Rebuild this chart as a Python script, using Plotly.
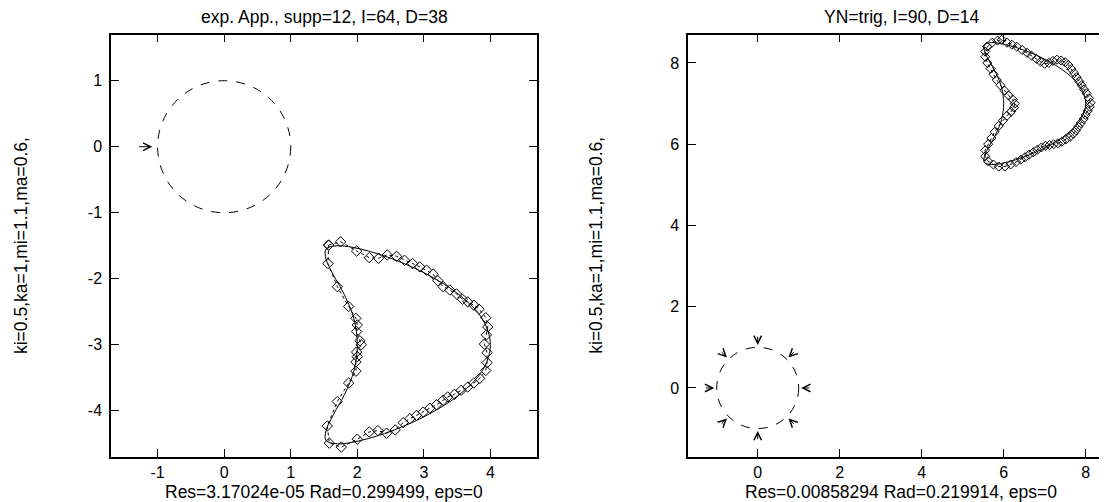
import plotly.graph_objects as go

# ---------------- data ----------------
# left panel: true boundary (solid)
left_true_x = [4.00, 3.88, 3.54, 3.06, 2.53, 2.05, 1.70, 1.53, 1.53, 1.64, 1.81, 1.95, 2.00,
               1.95, 1.81, 1.64, 1.53, 1.53, 1.70, 2.05, 2.53, 3.06, 3.54, 3.88, 4.00]
left_true_y = [-3.00, -2.61, -2.25, -1.94, -1.70, -1.55, -1.50, -1.55, -1.70, -1.94, -2.25, -2.61, -3.00,
               -3.39, -3.75, -4.06, -4.30, -4.45, -4.50, -4.45, -4.30, -4.06, -3.75, -3.39, -3.00]
# left panel: reconstructed points (diamonds)
left_rec_x = [1.57, 1.75, 1.99, 2.18, 2.32, 2.45, 2.59, 2.71, 2.83, 2.94, 3.04, 3.14, 3.21, 3.29,
              3.39, 3.49, 3.58, 3.66, 3.75, 3.83, 3.93, 3.96, 3.94, 3.91, 3.95, 3.95, 3.93,
              3.84, 3.75, 3.66, 3.56, 3.46, 3.36, 3.29, 3.19, 3.09, 2.99, 2.89, 2.79, 2.69,
              2.57, 2.44, 2.31, 2.18, 2.00, 1.76, 1.58,
              1.55, 1.70, 1.87, 1.98, 1.98, 2.00, 1.99, 2.06, 2.04, 1.99, 2.00, 1.98, 1.87, 1.70, 1.56, 1.57]
left_rec_y = [-1.49, -1.44, -1.58, -1.68, -1.69, -1.64, -1.66, -1.72, -1.77, -1.82, -1.87, -1.93, -2.03, -2.12,
              -2.17, -2.23, -2.31, -2.35, -2.40, -2.46, -2.59, -2.73, -2.85, -2.99, -3.12, -3.27, -3.39,
              -3.51, -3.58, -3.64, -3.69, -3.75, -3.79, -3.84, -3.91, -3.96, -4.02, -4.07, -4.12, -4.18,
              -4.29, -4.34, -4.30, -4.32, -4.43, -4.55, -4.49,
              -4.23, -3.86, -3.58, -3.40, -3.26, -3.18, -3.11, -3.00, -2.94, -2.80, -2.70, -2.60, -2.42, -2.12, -1.77, -1.49]

# right panel: true boundary (solid)
right_true_x = [8.00, 7.88, 7.54, 7.06, 6.53, 6.05, 5.70, 5.53, 5.53, 5.64, 5.81, 5.95, 6.00,
                5.95, 5.81, 5.64, 5.53, 5.53, 5.70, 6.05, 6.53, 7.06, 7.54, 7.88, 8.00]
right_true_y = [7.00, 7.39, 7.75, 8.06, 8.30, 8.45, 8.50, 8.45, 8.30, 8.06, 7.75, 7.39, 7.00,
                6.61, 6.25, 5.94, 5.70, 5.55, 5.50, 5.55, 5.70, 5.94, 6.25, 6.61, 7.00]
# right panel: reconstructed points (diamonds)
right_rec_x = [5.60, 5.72, 5.85, 5.95, 6.08, 6.20, 6.32, 6.45, 6.57, 6.68, 6.80, 6.90, 7.00, 7.10,
               7.20, 7.30, 7.40, 7.50, 7.58, 7.65, 7.72, 7.78, 7.84, 7.90, 7.96, 8.02, 8.08, 8.12,
               8.10, 8.05, 8.00, 7.95, 7.88, 7.82, 7.76, 7.70, 7.62, 7.52, 7.42, 7.32, 7.22, 7.12,
               7.02, 6.92, 6.82, 6.72, 6.62, 6.52, 6.42, 6.30, 6.17, 6.03, 5.88, 5.75, 5.62, 5.55,
               5.55, 5.62, 5.70, 5.78, 5.88, 5.98, 6.08, 6.18, 6.25, 6.27, 6.22, 6.12, 6.02, 5.92,
               5.83, 5.75, 5.68, 5.60, 5.55, 5.55, 5.60]
right_rec_y = [8.40, 8.50, 8.55, 8.57, 8.50, 8.45, 8.40, 8.32, 8.25, 8.18, 8.10, 8.03, 7.98, 8.00,
               8.05, 8.08, 8.06, 8.02, 7.95, 7.85, 7.75, 7.65, 7.55, 7.45, 7.35, 7.25, 7.13, 7.02,
               6.92, 6.82, 6.72, 6.62, 6.52, 6.43, 6.34, 6.26, 6.18, 6.12, 6.06, 6.02, 6.00, 5.98,
               5.96, 5.92, 5.86, 5.80, 5.74, 5.68, 5.62, 5.56, 5.50, 5.45, 5.45, 5.50, 5.58, 5.70,
               5.85, 6.00, 6.15, 6.30, 6.45, 6.58, 6.70, 6.80, 6.90, 7.00, 7.10, 7.20, 7.32, 7.45,
               7.58, 7.72, 7.86, 8.00, 8.15, 8.28, 8.40]

# incidence circle
circle_center = (0.0, 0.0)
circle_radius = 1.0

# arrows: (tail_x, tail_y, head_x, head_y)
left_arrows = [(-1.30, 0.00, -1.08, 0.00)]
right_arrows = [(1.30, 0.00, 1.06, 0.00), (0.92, 0.92, 0.75, 0.75),
                (0.00, 1.30, 0.00, 1.06), (-0.92, 0.92, -0.75, 0.75),
                (-1.30, 0.00, -1.06, 0.00), (-0.92, -0.92, -0.75, -0.75),
                (0.00, -1.30, 0.00, -1.06), (0.92, -0.92, 0.75, -0.75)]

left_title = "exp. App., supp=12, I=64, D=38"
right_title = "YN=trig, I=90, D=14"
left_xlabel = "Res=3.17024e-05 Rad=0.299499, eps=0"
right_xlabel = "Res=0.00858294 Rad=0.219914, eps=0"
ylabel = "ki=0.5,ka=1,mi=1.1,ma=0.6,"

left_xticks = [-1, 0, 1, 2, 3, 4]
left_yticks = [-4, -3, -2, -1, 0, 1]
right_ticks = [0, 2, 4, 6, 8]

# ---------------- figure ----------------
# the page body has an 8px margin, so the figure is 8px smaller and all
# reference pixel positions are shifted by 8px
OFF = 8
W, H = 1107 - OFF, 502 - OFF
FONT = "Liberation Sans, Arial, Helvetica, sans-serif"
FS = 17.5
FS_TICK = 16


def px_x(p):
    return (p - OFF) / W


def px_y(p):
    return 1 - (p - OFF) / H


fig = go.Figure()

for xs, ys, xr, yr, msize in [(left_rec_x, left_rec_y, "x", "y", 8),
                               (right_rec_x, right_rec_y, "x2", "y2", 7)]:
    fig.add_trace(go.Scatter(x=xs, y=ys, xaxis=xr, yaxis=yr, mode="lines+markers",
                             line=dict(color="black", width=1, dash="dot"),
                             marker=dict(symbol="diamond-open", size=msize,
                                         color="black", line=dict(width=1, color="black")),
                             showlegend=False, hoverinfo="skip"))

for xs, ys, xr, yr in [(left_true_x, left_true_y, "x", "y"),
                       (right_true_x, right_true_y, "x2", "y2")]:
    fig.add_trace(go.Scatter(x=xs, y=ys, xaxis=xr, yaxis=yr, mode="lines",
                             line=dict(color="black", width=1, shape="spline", smoothing=1.0),
                             showlegend=False, hoverinfo="skip"))

cx, cy = circle_center
for xr, yr in [("x", "y"), ("x2", "y2")]:
    fig.add_shape(type="circle", xref=xr, yref=yr,
                  x0=cx - circle_radius, x1=cx + circle_radius,
                  y0=cy - circle_radius, y1=cy + circle_radius,
                  line=dict(color="black", width=1, dash="dash"))

annotations = []
for arrows, xr, yr in [(left_arrows, "x", "y"), (right_arrows, "x2", "y2")]:
    for tx, ty, hx, hy in arrows:
        annotations.append(dict(x=hx, y=hy, ax=tx, ay=ty, xref=xr, yref=yr,
                                axref=xr, ayref=yr, text="", showarrow=True,
                                arrowhead=5, arrowsize=1.5, arrowwidth=1,
                                arrowcolor="black", standoff=0, startstandoff=0))

txt = dict(family=FONT, size=FS, color="black")
left_cx = (111 + 537) / 2
right_cx = (688 + 1114) / 2
annotations += [
    dict(text=left_title, x=px_x(left_cx), y=px_y(16.7), xref="paper", yref="paper",
         showarrow=False, xanchor="center", yanchor="middle", font=txt),
    dict(text=right_title, x=px_x(right_cx), y=px_y(16.7), xref="paper", yref="paper",
         showarrow=False, xanchor="center", yanchor="middle", font=txt),
    dict(text=left_xlabel, x=px_x(left_cx), y=px_y(492), xref="paper", yref="paper",
         showarrow=False, xanchor="center", yanchor="middle", font=txt),
    dict(text=right_xlabel, x=px_x(right_cx), y=px_y(492), xref="paper", yref="paper",
         showarrow=False, xanchor="center", yanchor="middle", font=txt),
    dict(text=ylabel, x=px_x(20.3), y=px_y(245.75), xref="paper", yref="paper",
         showarrow=False, xanchor="center", yanchor="middle", textangle=-90, font=txt),
    dict(text=ylabel, x=px_x(596), y=px_y(245.75), xref="paper", yref="paper",
         showarrow=False, xanchor="center", yanchor="middle", textangle=-90, font=txt),
]

common = dict(ticks="inside", ticklen=8, tickwidth=1, tickcolor="black",
              showline=True, linecolor="black", linewidth=1.5,
              showgrid=False, zeroline=False,
              tickfont=dict(family=FONT, size=FS_TICK, color="black"))

ydom = [px_y(457), px_y(34.5)]
fig.update_layout(
    width=W, height=H, autosize=False,
    margin=dict(l=0, r=0, t=0, b=0, pad=0),
    paper_bgcolor="white", plot_bgcolor="white",
    showlegend=False,
    xaxis=dict(domain=[px_x(111), px_x(537)], range=[-1.7, 4.7], anchor="y",
               tickvals=left_xticks, ticktext=[str(v) for v in left_xticks],
               mirror="ticks", ticklabelstandoff=0, **common),
    yaxis=dict(domain=ydom, range=[-4.7, 1.7], anchor="x",
               tickvals=left_yticks, ticktext=[str(v) for v in left_yticks],
               mirror="ticks", ticklabelstandoff=4, **common),
    xaxis2=dict(domain=[px_x(688), 1.0], range=[-1.7, 8.52], anchor="y2",
                tickvals=right_ticks, ticktext=[str(v) for v in right_ticks],
                mirror="ticks", ticklabelstandoff=0, **common),
    yaxis2=dict(domain=ydom, range=[-1.7, 8.7], anchor="x2",
                tickvals=right_ticks, ticktext=[str(v) for v in right_ticks],
                mirror=False, ticklabelstandoff=4, **common),
    annotations=annotations,
)

fig.write_html("out.html")
